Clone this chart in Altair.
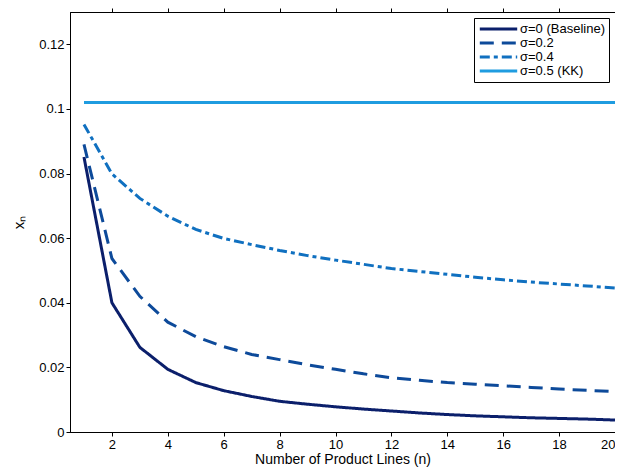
import pandas as pd
import altair as alt

n = list(range(1, 21))
baseline = [0.0851, 0.0400, 0.0262, 0.0194, 0.0153, 0.0128, 0.0110, 0.0095, 0.0086, 0.0078,
            0.0071, 0.0065, 0.0059, 0.0054, 0.0050, 0.0047, 0.0044, 0.0042, 0.0040, 0.0037]
sig02 = [0.0890, 0.0537, 0.0420, 0.0340, 0.0295, 0.0264, 0.0240, 0.0224, 0.0208, 0.0194,
         0.0180, 0.0168, 0.0160, 0.0153, 0.0148, 0.0143, 0.0138, 0.0133, 0.0129, 0.0125]
sig04 = [0.0952, 0.0799, 0.0723, 0.0668, 0.0627, 0.0599, 0.0580, 0.0562, 0.0546, 0.0532,
         0.0519, 0.0506, 0.0497, 0.0488, 0.0479, 0.0471, 0.0464, 0.0458, 0.0452, 0.0446]
kk = [0.102] * 20
names = ['σ=0 (Baseline)', 'σ=0.2', 'σ=0.4', 'σ=0.5 (KK)']
colors = ['#0b1f6b', '#0d4a9a', '#1070c0', '#1f9ce0']

rows = []
for name, vals in zip(names, [baseline, sig02, sig04, kk]):
    for i, v in zip(n, vals):
        rows.append({'n': i, 'x': v, 'series': name})
df = pd.DataFrame(rows)

font = 'Liberation Sans'
xs = alt.Scale(domain=[0.5, 20], nice=False, zero=False)
ys = alt.Scale(domain=[0, 0.13], nice=False)
xticks = list(range(2, 21, 2))
yticks = [0, 0.02, 0.04, 0.06, 0.08, 0.1, 0.12]

lines = alt.Chart(df).mark_line(strokeWidth=3, clip=True).encode(
    x=alt.X('n:Q', scale=xs, title='Number of Product Lines (n)',
            axis=alt.Axis(values=xticks, grid=False, tickSize=4, labelPadding=2,
                          domainColor='black', tickColor='black', labelColor='black',
                          titleColor='black', labelFontSize=13, titleFontSize=14,
                          titleFontWeight='normal', labelFont=font, titleFont=font, titlePadding=1)),
    y=alt.Y('x:Q', scale=ys, title='xₙ',
            axis=alt.Axis(values=yticks, format='~g', grid=False, tickSize=4,
                          domainColor='black', tickColor='black', labelColor='black',
                          titleColor='black', labelFontSize=13, titleFontSize=15,
                          titleFontWeight='normal', labelFont=font, titleFont=font, titlePadding=12)),
    color=alt.Color('series:N', sort=names, scale=alt.Scale(domain=names, range=colors),
                    legend=alt.Legend(title=None, orient='top-right', strokeColor='black',
                                      fillColor='white', padding=4, symbolType='stroke',
                                      symbolStrokeWidth=3, symbolSize=1400, labelFontSize=13,
                                      labelFont=font, labelColor='black', rowPadding=0,
                                      clipHeight=14, labelOffset=1, offset=6)),
    strokeDash=alt.StrokeDash('series:N', sort=names,
                              scale=alt.Scale(domain=names, range=[[1, 0], [14, 8], [10, 4, 4, 4], [1, 0]]),
                              legend=None),
)

frame = alt.Chart(df).mark_point(opacity=0).encode(
    x=alt.X('n:Q', scale=xs, axis=alt.Axis(orient='top', values=xticks,
                                           labels=False, title=None, grid=False,
                                           domainColor='black', tickColor='black', tickSize=4)),
    y=alt.Y('x:Q', scale=ys, axis=alt.Axis(orient='right', values=yticks,
                                           labels=False, title=None, grid=False,
                                           domainColor='black', tickColor='black', tickSize=4)),
)

chart = alt.layer(lines, frame).resolve_axis(x='independent', y='independent').properties(
    width=545, height=420,
    autosize=alt.AutoSizeParams(type='none'),
    padding={'left': 62, 'top': 4, 'right': 0, 'bottom': 36},
).configure_view(stroke='black')

chart.save("out.html", embed_options={"renderer": "svg", "actions": False})
